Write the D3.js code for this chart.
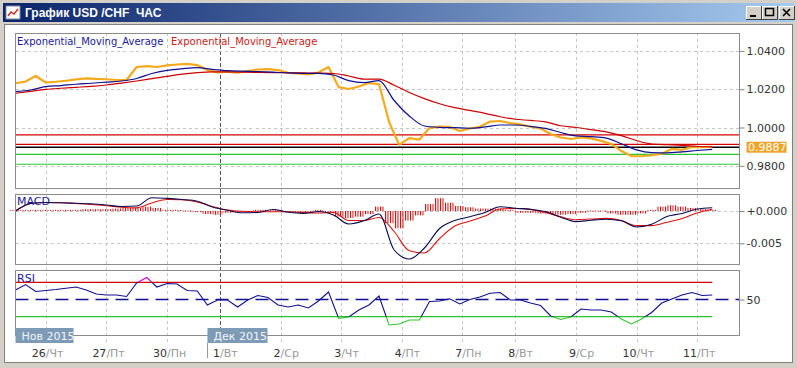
<!DOCTYPE html>
<html>
 <head>
   <title>График USD /CHF ЧАС</title>
   <script type="text/javascript" src="https://cdnjs.cloudflare.com/ajax/libs/d3/7.8.5/d3.min.js"></script>
   <style type="text/css">
		body {
			margin: 0;
			background: #d4d0c8;
		}
		svg {
			display: block;
		}
		text {
			font-family: 'DejaVu Sans', Verdana, sans-serif;
			font-size: 11px;
		}
		.grid {
			stroke: #c4c4c4;
			stroke-dasharray: 3,3;
			shape-rendering: crispEdges;
		}
		.panel {
			fill: none;
			stroke: #8c8c8c;
			shape-rendering: crispEdges;
		}
   </style>
 </head>
 <body>
   <script type="text/javascript">

	// hourly bars, sampled every 4 bars (price, histogram, rsi) or every 6 bars (averages, macd)
	var price = [1.0231, 1.0240, 1.0269, 1.0235, 1.0239, 1.0244, 1.0251, 1.0257, 1.0254, 1.0252,
		1.0248, 1.0248, 1.0316, 1.0321, 1.0316, 1.0324, 1.0329, 1.0332, 1.0326, 1.0300,
		1.0288, 1.0292, 1.0287, 1.0295, 1.0303, 1.0305, 1.0300, 1.0285, 1.0282, 1.0277,
		1.0287, 1.0316, 1.0211, 1.0201, 1.0214, 1.0232, 1.0227, 1.0029, 0.9909, 0.9945,
		0.9937, 0.9997, 1.0005, 1.0003, 0.9982, 0.9995, 1.0004, 1.0031, 1.0034, 1.0023,
		1.0016, 1.0004, 0.9995, 0.9966, 0.9948, 0.9940, 0.9948, 0.9943, 0.9930, 0.9914,
		0.9877, 0.9851, 0.9850, 0.9855, 0.9863, 0.9888, 0.9883, 0.9898, 0.9897, 0.9900];
	var emaFast = [1.0187, 1.0196, 1.0213, 1.0219, 1.0226, 1.0231, 1.0237, 1.0243, 1.0256, 1.0282,
		1.0298, 1.0307, 1.0313, 1.0304, 1.0297, 1.0294, 1.0292, 1.0289, 1.0285, 1.0283,
		1.0283, 1.0274, 1.0245, 1.0234, 1.0245, 1.0141, 1.0060, 1.0008, 1.0001, 0.9999,
		0.9996, 1.0003, 1.0013, 1.0013, 1.0006, 0.9995, 0.9974, 0.9956, 0.9952, 0.9945,
		0.9915, 0.9883, 0.9869, 0.9868, 0.9873, 0.9880, 0.9886];
	var emaSlow = [1.0179, 1.0189, 1.0199, 1.0205, 1.0210, 1.0215, 1.0222, 1.0232, 1.0243, 1.0255,
		1.0267, 1.0279, 1.0287, 1.0291, 1.0290, 1.0289, 1.0288, 1.0287, 1.0286, 1.0285,
		1.0284, 1.0282, 1.0269, 1.0253, 1.0253, 1.0221, 1.0183, 1.0151, 1.0124, 1.0104,
		1.0089, 1.0074, 1.0056, 1.0043, 1.0037, 1.0029, 1.0009, 1.0000, 0.9989, 0.9977,
		0.9958, 0.9932, 0.9914, 0.9910, 0.9907, 0.9902, 0.9899];
	var macd = [0, 0.00116, 0.00131, 0.00127, 0.00119, 0.00111, 0.00093, 0.00070, 0.00077, 0.00206,
		0.00196, 0.00178, 0.00152, 0.00062, 0.00011, -0.00028, -0.00023, 0.00023, -0.00019, -0.00036,
		-0.00008, -0.00062, -0.00201, -0.00152, -0.00046, -0.00603, -0.00742, -0.00572, -0.00271, -0.00147,
		-0.00088, -0.00023, 0.00066, 0.00043, 0.00025, -0.00009, -0.00096, -0.00165, -0.00142, -0.00127,
		-0.00152, -0.00247, -0.00206, -0.00085, -0.00039, 0.00031, 0.00051];
	var signal = [0, 0.00116, 0.00131, 0.00127, 0.00116, 0.00100, 0.00082, 0.00057, 0.00049, 0.00124,
		0.00179, 0.00173, 0.00139, 0.00070, 0.00015, -0.00005, -0.00011, -0.00011, -0.00012, -0.00023,
		-0.00031, -0.00023, -0.00147, -0.00147, -0.00101, -0.00317, -0.00615, -0.00649, -0.00425, -0.00232,
		-0.00155, -0.00077, 0.00031, 0.00039, 0.00025, -0.00023, -0.00090, -0.00135, -0.00124, -0.00114,
		-0.00147, -0.00226, -0.00226, -0.00175, -0.00116, -0.00031, 0.00028];
	var hist = [0.0001, 0.0001, 0.0001, 0.0001, 0.0001, 0.0001, 0.0001, 0.0002, 0.0002, 0.0002,
		0.0003, 0.0004, 0.0004, 0.0006, 0.0004, 0.0001, 0.0001, 0.0000, -0.0001, -0.0004,
		-0.0005, -0.0002, -0.0001, -0.0001, 0.0001, 0.0001, 0.0001, -0.0001, -0.0001, -0.0001,
		0.0001, -0.0002, -0.0008, -0.0010, -0.0008, -0.0004, 0.0006, -0.0018, -0.0026, -0.0014,
		-0.0006, 0.0010, 0.0019, 0.0012, 0.0007, 0.0005, 0.0003, 0.0003, 0.0003, 0.0001,
		-0.0002, -0.0002, -0.0003, -0.0004, -0.0005, -0.0004, -0.0002, 0.0000, 0.0000, -0.0003,
		-0.0005, -0.0005, -0.0003, 0.0001, 0.0006, 0.0008, 0.0006, 0.0004, 0.0002, 0.0001];
	var rsi = [61.0, 67.4, 59.3, 60.5, 61.6, 63.1, 64.5, 61.0, 56.4, 55.2,
		55.2, 53.5, 69.2, 75.6, 64.5, 68.6, 68.0, 60.5, 59.9, 43.6,
		49.4, 49.4, 41.3, 49.4, 54.7, 52.3, 43.6, 41.3, 43.6, 40.1,
		48.3, 58.7, 28.1, 29.6, 37.8, 43.6, 54.1, 20.3, 21.5, 26.2,
		26.2, 47.7, 48.3, 50.8, 44.8, 50.0, 52.9, 57.2, 58.1, 49.4,
		49.4, 45.9, 43.0, 30.8, 26.7, 29.6, 39.0, 37.8, 37.8, 35.5,
		27.3, 21.5, 27.3, 34.9, 45.9, 50.6, 55.2, 58.1, 54.7, 55.2];

	var dayNums = ['26', '27', '30', '1', '2', '3', '4', '7', '8', '9', '10', '11'];
	var dayNames = ['Чт', 'Пт', 'Пн', 'Вт', 'Ср', 'Чт', 'Пт', 'Пн', 'Вт', 'Ср', 'Чт', 'Пт'];
	var dayHours = [12, 36, 60, 81, 105, 129, 153, 177, 198, 222, 246, 270];
	var months = ['Нов 2015', 'Дек 2015'];
	var monthHours = [0, 81];
	var priceTicks = [1.04, 1.02, 1.00, 0.98];
	var macdTicks = [0, -0.005];
	var macdTickLabels = ['+0.000', '-0.005'];
	var levelValues = [0.9961, 0.9912, 0.9897, 0.9860, 0.9808];
	var levelColors = ['#d40000', '#d40000', '#000000', '#2fc42f', '#2fc42f'];
	var lastPrice = '0.9887';
	var rsiLevels = [70, 50, 30];

	var W = 797, H = 368, left = 15.5, right = 739.5, stepA = 4, stepB = 6;

	var svg = d3.select('body').append('svg')
		.attr('width', W )
		.attr('height', H )

	var defs = svg.append('defs');
	var grad = defs.append('linearGradient').attr('id', 'title');
	grad.append('stop').attr('offset', '0%').attr('stop-color', '#0a246a');
	grad.append('stop').attr('offset', '100%').attr('stop-color', '#a6caf0');

	var hatch = defs.append('pattern')
		.attr('id', 'hatch')
		.attr('patternUnits', 'userSpaceOnUse')
		.attr('width', 2.5 ).attr('height', 4 )
	hatch.append('rect').attr('x', 0).attr('y', 0).attr('width', 1).attr('height', 4).attr('fill', '#d40000');

	// window chrome
	svg.append('rect').attr('x', 0).attr('y', 0).attr('width', W).attr('height', H).attr('fill', '#d4d0c8');
	svg.append('rect').attr('x', 3).attr('y', 3).attr('width', W - 6).attr('height', 19).attr('fill', 'url(#title)');
	var icon = svg.append('g').attr('transform', 'translate(6,6)');
	icon.append('rect').attr('width', 14).attr('height', 13).attr('fill', '#fff').attr('stroke', '#7a8aa0');
	icon.append('path').attr('d', 'M2,10 L5,6 L8,8 L12,3').attr('fill', 'none').attr('stroke', '#d03020').attr('stroke-width', 1.5);
	svg.append('text')
		.attr('x', 25 ).attr('y', 17 )
		.attr('fill', '#fff')
		.attr('xml:space', 'preserve')
		.style('white-space', 'pre')
		.style('font-family', "'Liberation Sans', Arial, sans-serif")
		.style('font-size', '12px')
		.style('font-weight', 'bold')
		.text('График USD /CHF  ЧАС');

	var btnX = [746, 762, 779];
	btnX.forEach(function(bx, i) {
		var b = svg.append('g').attr('transform', 'translate(' + bx + ',6)');
		b.append('rect').attr('width', 15).attr('height', 13).attr('fill', '#d4d0c8')
			.attr('stroke', '#404040').attr('shape-rendering', 'crispEdges');
		b.append('path').attr('d', 'M0.5,12.5 L0.5,0.5 L14.5,0.5').attr('fill', 'none').attr('stroke', '#fff')
			.attr('shape-rendering', 'crispEdges');
		if ( i == 0 ) b.append('rect').attr('x', 4).attr('y', 9).attr('width', 6).attr('height', 2).attr('fill', '#000');
		if ( i == 1 ) b.append('rect').attr('x', 3.5).attr('y', 2.5).attr('width', 8).attr('height', 7)
			.attr('fill', 'none').attr('stroke', '#000').style('stroke-width', 1.5);
		if ( i == 2 ) b.append('path').attr('d', 'M4,3 L11,10 M11,3 L4,10').attr('stroke', '#000').attr('stroke-width', 1.6);
	});

	svg.append('rect').attr('x', 4.5).attr('y', 24.5).attr('width', W - 9).attr('height', H - 30)
		.attr('fill', '#fff').attr('stroke', '#808080').attr('shape-rendering', 'crispEdges');

	// scales
	var x = d3.scaleLinear().domain([0, 286.8]).range([left, right]);
	var yP = d3.scaleLinear().domain([0.96841, 1.04935]).range([188, 33]);
	var yM = d3.scaleLinear().domain([-0.008195, 0.002629]).range([264, 194]);
	var yR = d3.scaleLinear().domain([8.7, 84.3]).range([335, 270]);

	var g = svg.append('g');

	// vertical grid over all panels
	g.selectAll('line.vgrid').data( dayHours )
		.enter().append('line')
		.attr('class', 'grid')
		.attr('x1', function(d) { return Math.round(x(d)) + 0.5 } )
		.attr('x2', function(d) { return Math.round(x(d)) + 0.5 } )
		.attr('y1', 33 )
		.attr('y2', 342 )
		.style('stroke', function(d) { return monthHours.indexOf(d) > 0 ? '#555' : null } )
		.style('stroke-dasharray', function(d) { return monthHours.indexOf(d) > 0 ? '4,2' : null } )

	// horizontal grids
	function hgrid(ticks, y) {
		g.append('g').selectAll('line').data( ticks )
			.enter().append('line')
			.attr('class', 'grid')
			.attr('x1', left ).attr('x2', right )
			.attr('y1', function(d) { return Math.round(y(d)) + 0.5 } )
			.attr('y2', function(d) { return Math.round(y(d)) + 0.5 } )
	}
	hgrid( priceTicks, yP );
	hgrid( macdTicks, yM );

	// axis tick labels on the right
	var axP = d3.axisRight(yP).tickValues(priceTicks).tickSize(5).tickFormat(d3.format('.4f'));
	var axM = d3.axisRight(yM).tickValues(macdTicks).tickSize(5).tickFormat(function(d, i) { return macdTickLabels[i] });
	var axR = d3.axisRight(yR).tickValues([50]).tickSize(5);
	[[axP, 188], [axM, 264], [axR, 335]].forEach(function(a) {
		var ax = svg.append('g').attr('transform', 'translate(' + right + ',0)').call(a[0]);
		ax.select('.domain').remove();
		ax.selectAll('line').attr('stroke', '#808080');
		ax.selectAll('text').attr('x', 7).attr('fill', '#333').style('font-family', "'DejaVu Sans', sans-serif").style('font-size', '11px');
	});

	// price panel
	g.selectAll('line.level').data( levelValues )
		.enter().append('line')
		.attr('x1', left ).attr('x2', right )
		.attr('y1', function(d) { return yP(d) } )
		.attr('y2', function(d) { return yP(d) } )
		.attr('stroke', function(d, i) { return levelColors[i] } )
		.attr('stroke-width', function(d, i) { return i == 2 ? 1.4 : 1.2 } )

	var lineA = function(y) { return d3.line().x(function(d, i) { return x(i * stepA) }).y(function(d) { return y(d) }) };
	var lineB = function(y) { return d3.line().x(function(d, i) { return x(i * stepB) }).y(function(d) { return y(d) }).curve(d3.curveMonotoneX) };

	g.append('path').datum( price )
		.attr('d', lineA(yP))
		.attr('fill', 'none').attr('stroke', '#f4aa1c').attr('stroke-width', 2.2).attr('stroke-linejoin', 'bevel')
	g.append('path').datum( emaSlow )
		.attr('d', lineB(yP))
		.attr('fill', 'none').attr('stroke', '#cc0000').attr('stroke-width', 1.2)
	g.append('path').datum( emaFast )
		.attr('d', lineB(yP))
		.attr('fill', 'none').attr('stroke', '#101090').attr('stroke-width', 1.2)

	svg.append('rect')
		.attr('x', 746.5).attr('y', yP(levelValues[2]) - 5.5)
		.attr('width', 40).attr('height', 11)
		.attr('fill', '#f0a42a')
	svg.append('text')
		.attr('x', 748).attr('y', yP(levelValues[2]) + 4)
		.attr('fill', '#fff')
		.text( lastPrice );

	svg.append('text').attr('x', 17).attr('y', 45).attr('fill', '#1a1a9a').style('font-size', '10px').text('Exponential_Moving_Average');
	svg.append('text').attr('x', 171).attr('y', 45).attr('fill', '#cc1a1a').style('font-size', '10px').text('Exponential_Moving_Average');

	// macd panel
	g.selectAll('rect.hist').data( hist )
		.enter().append('rect')
		.attr('x', function(d, i) { return x(i * stepA - 2) } )
		.attr('width', function(d, i) { return x(i * stepA + 2) - x(i * stepA - 2) } )
		.attr('y', function(d) { return d >= 0 ? yM(d) - 0.5 : yM(0) } )
		.attr('height', function(d) { return Math.max(1, Math.abs(yM(d) - yM(0)) + 0.5) } )
		.attr('fill', 'url(#hatch)')

	g.append('path').datum( signal )
		.attr('d', lineB(yM))
		.attr('fill', 'none').attr('stroke', '#dd1010').attr('stroke-width', 1.1)
	g.append('path').datum( macd )
		.attr('d', lineB(yM))
		.attr('fill', 'none').attr('stroke', '#0a0a50').attr('stroke-width', 1.1)
	svg.append('text').attr('x', 17).attr('y', 205).attr('fill', '#1a1a9a').text('MACD');

	// rsi panel
	var clips = [[270, yR(70)], [yR(70), yR(30)], [yR(30), 335]];
	clips.forEach(function(c, i) {
		defs.append('clipPath').attr('id', 'rc' + i)
			.append('rect').attr('x', left).attr('y', c[0]).attr('width', right - left).attr('height', c[1] - c[0]);
	});
	g.append('line')
		.attr('x1', left ).attr('x2', right )
		.attr('y1', yR(rsiLevels[1]) ).attr('y2', yR(rsiLevels[1]) )
		.attr('stroke', '#101090').attr('stroke-width', 1.3).attr('stroke-dasharray', '13,7')
	g.selectAll('line.rlev').data( [rsiLevels[0], rsiLevels[2]] )
		.enter().append('line')
		.attr('x1', left ).attr('x2', x(69 * stepA) )
		.attr('y1', function(d) { return yR(d) } ).attr('y2', function(d) { return yR(d) } )
		.attr('stroke', function(d, i) { return i == 0 ? '#d40000' : '#2fc42f' } )
		.attr('stroke-width', 1.2)
	var rsiColors = ['#d000d0', '#101090', '#2fc42f'];
	rsiColors.forEach(function(c, i) {
		g.append('path').datum( rsi )
			.attr('d', lineA(yR))
			.attr('clip-path', 'url(#rc' + i + ')')
			.attr('fill', 'none').attr('stroke', c).attr('stroke-width', 1.1)
	});
	svg.append('text').attr('x', 17).attr('y', 282).attr('fill', '#1a1a9a').text('RSI');

	// panel frames
	[[33, 188], [194, 264], [270, 335]].forEach(function(p) {
		svg.append('rect').attr('class', 'panel')
			.attr('x', left).attr('y', p[0] + 0.5).attr('width', right - left).attr('height', p[1] - p[0]);
	});

	// time axis
	var xa = svg.append('g');
	xa.selectAll('text.num').data( dayHours )
		.enter().append('text')
		.attr('x', function(d) { return x(d) } )
		.attr('y', 357 )
		.attr('text-anchor', 'end')
		.attr('fill', '#333')
		.text(function(d, i) { return dayNums[i] } )
	xa.selectAll('text.wd').data( dayHours )
		.enter().append('text')
		.attr('x', function(d) { return x(d) } )
		.attr('y', 357 )
		.attr('fill', '#999')
		.text(function(d, i) { return '/' + dayNames[i] } )

	monthHours.forEach(function(h, i) {
		var mx = i == 0 ? left : x(h) - 12.5;
		xa.append('rect').attr('x', mx).attr('y', 328).attr('width', i == 0 ? 58 : 60).attr('height', 15).attr('fill', '#7e9bb6');
		xa.append('text').attr('x', mx + 6).attr('y', 339.5).attr('fill', '#f0f4f8').style('font-size', '11px').text( months[i] );
		if ( i > 0 ) xa.append('line').attr('x1', Math.round(mx) + 0.5).attr('x2', Math.round(mx) + 0.5)
			.attr('y1', 343).attr('y2', 358).attr('stroke', '#999');
	});

    </script>
 </body>
</html>
